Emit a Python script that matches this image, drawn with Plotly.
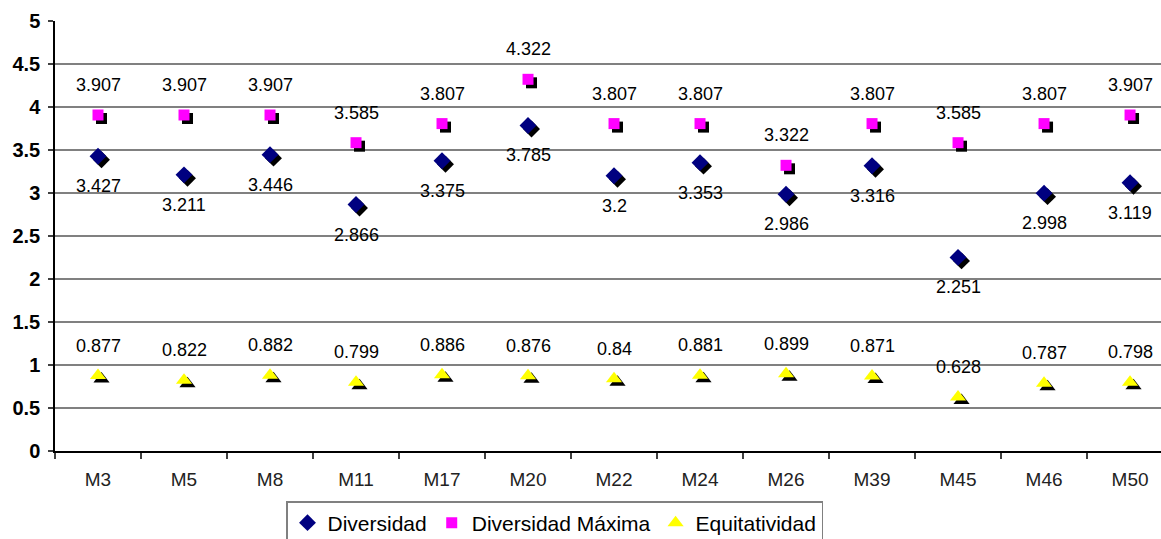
import plotly.graph_objects as go

# Sampling sites
sites = ["M3", "M5", "M8", "M11", "M17", "M20", "M22", "M24", "M26", "M39", "M45", "M46", "M50"]

# Indices per site
diversidad = [3.427, 3.211, 3.446, 2.866, 3.375, 3.785, 3.2, 3.353, 2.986, 3.316, 2.251, 2.998, 3.119]
diversidad_maxima = [3.907, 3.907, 3.907, 3.585, 3.807, 4.322, 3.807, 3.807, 3.322, 3.807, 3.585, 3.807, 3.907]
equitatividad = [0.877, 0.822, 0.882, 0.799, 0.886, 0.876, 0.84, 0.881, 0.899, 0.871, 0.628, 0.787, 0.798]

y_ticks = [0, 0.5, 1, 1.5, 2, 2.5, 3, 3.5, 4, 4.5, 5]

# Plot geometry (pixels) used to place the drop shadows a few pixels off
W, H = 1161, 539
M_L, M_R, M_T, M_B = 55, 0, 21, 88
X_RANGE = [-0.5, 12.36]
Y_RANGE = [0, 5]
plot_w = W - M_L - M_R
plot_h = H - M_T - M_B
px_per_cat = plot_w / (X_RANGE[1] - X_RANGE[0])
px_per_unit = plot_h / (Y_RANGE[1] - Y_RANGE[0])
SHADOW_PX = 3.5
dx = SHADOW_PX / px_per_cat
dy = SHADOW_PX / px_per_unit

xi = list(range(len(sites)))
boundaries = [i - 0.5 for i in range(len(sites) + 1)]

series = [
    ("Diversidad", diversidad, "diamond", 13, "#000080", 1),
    ("Diversidad Máxima", diversidad_maxima, "square", 11, "#FF00FF", -1),
    ("Equitatividad", equitatividad, "triangle-up", 14, "#FFFF00", -1),
]

fig = go.Figure()

# Shadows first so they sit beneath the coloured markers
for name, vals, sym, size, color, _ in series:
    fig.add_trace(go.Scatter(
        x=[i + dx for i in xi], y=[v - dy for v in vals],
        mode="markers", showlegend=False, hoverinfo="skip",
        marker=dict(symbol=sym, size=size, color="black", line=dict(width=0)),
    ))

for name, vals, sym, size, color, _ in series:
    fig.add_trace(go.Scatter(
        x=xi, y=vals, mode="markers", name=name,
        marker=dict(symbol=sym, size=size, color=color, line=dict(width=0)),
    ))

# Value labels: Diversidad below its markers, the others above
annotations = []
for name, vals, sym, size, color, side in series:
    for i, v in zip(xi, vals):
        annotations.append(dict(
            x=i, y=v, xref="x", yref="y", text=str(v), showarrow=False,
            yshift=-30 * side, font=dict(family="Arial", size=18, color="black"),
        ))

fig.update_layout(
    width=W, height=H,
    margin=dict(l=M_L, r=M_R, t=M_T, b=M_B, autoexpand=False),
    paper_bgcolor="white", plot_bgcolor="white",
    font=dict(family="Arial", color="black"),
    annotations=annotations,
    xaxis=dict(
        range=X_RANGE, tickmode="array", tickvals=xi, ticktext=sites,
        ticks="", showgrid=False, showline=True, linecolor="black", linewidth=1.5,
        tickfont=dict(family="Arial", size=19, color="#222222"),
        ticklabelstandoff=10,
        minor=dict(tickmode="array", tickvals=boundaries, ticks="outside",
                   ticklen=6, tickcolor="#404040", tickwidth=1.5, showgrid=False),
        zeroline=False,
    ),
    yaxis=dict(
        range=Y_RANGE, tickvals=y_ticks, ticks="outside", ticklen=5,
        tickcolor="#404040", tickwidth=1.5,
        showgrid=True, gridcolor="#808080", gridwidth=1.5,
        showline=True, linecolor="black", linewidth=1.5, zeroline=False,
        tickfont=dict(family="Arial", size=20, color="black", weight="bold"),
        ticklabelstandoff=4,
    ),
    legend=dict(
        orientation="h", x=(286 - M_L) / plot_w, xanchor="left",
        y=(M_T + plot_h - 501) / plot_h, yanchor="top",
        bordercolor="#808080", borderwidth=1.5, bgcolor="white",
        font=dict(family="Arial", size=21, color="black"),
        itemwidth=30, tracegroupgap=0,
    ),
)

fig.write_html("out.html")
